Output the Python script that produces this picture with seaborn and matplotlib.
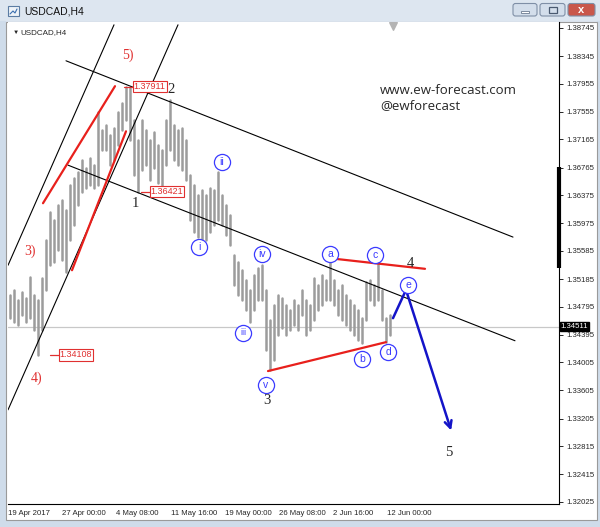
import numpy as np
import pandas as pd
import seaborn as sns
import matplotlib.pyplot as plt
from matplotlib.patches import Rectangle, FancyBboxPatch

# USDCAD H4 bars (roughly two H4 bars per entry)
highs = [1.3496, 1.3503, 1.3489, 1.3500, 1.3491, 1.3521, 1.3496, 1.3489, 1.3520, 1.3574,
         1.3613, 1.3602, 1.3623, 1.3630, 1.3616, 1.3652, 1.3662, 1.3670, 1.3687, 1.3676,
         1.3690, 1.3680, 1.3755, 1.3730, 1.3737, 1.3723, 1.3733, 1.3755, 1.3768, 1.3791,
         1.3789, 1.3744, 1.3715, 1.3744, 1.3730, 1.3715, 1.3727, 1.3708, 1.3701, 1.3744,
         1.3772, 1.3737, 1.3730, 1.3733, 1.3715, 1.3666, 1.3652, 1.3638, 1.3645, 1.3638,
         1.3647, 1.3645, 1.3670, 1.3638, 1.3623, 1.3609, 1.3552, 1.3543, 1.3531, 1.3517,
         1.3503, 1.3524, 1.3534, 1.3538, 1.3503, 1.3460, 1.3482, 1.3496, 1.3491, 1.3482,
         1.3474, 1.3489, 1.3482, 1.3503, 1.3489, 1.3482, 1.3520, 1.3510, 1.3524, 1.3517,
         1.3548, 1.3517, 1.3503, 1.3510, 1.3496, 1.3489, 1.3482, 1.3474, 1.3463, 1.3514,
         1.3517, 1.3510, 1.3541, 1.3503, 1.3463, 1.3467]
lows = [1.3463, 1.3457, 1.3453, 1.3467, 1.3457, 1.3463, 1.3446, 1.3411, 1.3446, 1.3503,
        1.3538, 1.3543, 1.3559, 1.3545, 1.3528, 1.3574, 1.3595, 1.3623, 1.3642, 1.3647,
        1.3652, 1.3647, 1.3652, 1.3701, 1.3701, 1.3680, 1.3687, 1.3708, 1.3730, 1.3744,
        1.3715, 1.3666, 1.3642, 1.3673, 1.3680, 1.3659, 1.3676, 1.3655, 1.3649, 1.3680,
        1.3701, 1.3687, 1.3680, 1.3673, 1.3659, 1.3602, 1.3585, 1.3578, 1.3567, 1.3574,
        1.3585, 1.3595, 1.3602, 1.3595, 1.3581, 1.3567, 1.3510, 1.3496, 1.3489, 1.3474,
        1.3457, 1.3474, 1.3489, 1.3489, 1.3418, 1.3389, 1.3404, 1.3439, 1.3449, 1.3439,
        1.3446, 1.3453, 1.3446, 1.3467, 1.3439, 1.3446, 1.3460, 1.3474, 1.3482, 1.3489,
        1.3489, 1.3482, 1.3467, 1.3460, 1.3453, 1.3446, 1.3439, 1.3432, 1.3428, 1.3460,
        1.3489, 1.3482, 1.3489, 1.3460, 1.3429, 1.3439]
last_price = 1.34511

date_ticks = [-0.5, 13, 26.5, 40.25, 53.75, 67.25, 80.75, 94.25]
date_labels = ['19 Apr 2017', '27 Apr 00:00', '4 May 08:00', '11 May 16:00',
               '19 May 00:00', '26 May 08:00', '2 Jun 16:00', '12 Jun 00:00']
price_ticks = [1.38745, 1.38345, 1.37955, 1.37555, 1.37165, 1.36765, 1.36375, 1.35975, 1.35585,
               1.35185, 1.34795, 1.34395, 1.34005, 1.33605, 1.33205, 1.32815, 1.32415, 1.32025]

# elliott wave labels
wave_text = ['1', '2', '3', '4', '5']
wave_x = [31.25, 40.25, 64.25, 100, 109.75]
wave_y = [1.3626, 1.3787, 1.3346, 1.3541, 1.3272]
degree_text = ['3)', '4)', '5)']
degree_x = [5, 6.75, 29.5]
degree_y = [1.3558, 1.3378, 1.3836]
minor_text = ['i', 'ii', 'iii', 'iv', 'v', 'a', 'b', 'c', 'd', 'e']
minor_x = [47.25, 53, 58.25, 63, 64, 80, 88, 91.25, 94.5, 99.5]
minor_y = [1.3564, 1.3684, 1.3442, 1.3554, 1.3368, 1.3554, 1.3405, 1.3553, 1.3415, 1.3510]

# marked pivot prices: label, bar where the tag line starts, price
pivot_text = ['1.37911', '1.36421', '1.34108']
pivot_x = [28.5, 32.75, 10]
pivot_y = [1.37911, 1.36421, 1.34108]

# trend / channel lines: ((x0, y0), (x1, y1))
black_lines = [((-0.5, 1.3538), (26, 1.3879)),
               ((-0.5, 1.3333), (42, 1.3879)),
               ((14, 1.3828), (125.75, 1.3578)),
               ((14.5, 1.3680), (126.25, 1.3431))]
red_lines = [((8.25, 1.3626), (26.25, 1.3792)),
             ((15.5, 1.3531), (29, 1.3728)),
             ((80, 1.3548), (103.75, 1.3533)),
             ((64.5, 1.3388), (94, 1.3429))]
path_x = [95.75, 99, 110.5]
path_y = [1.3463, 1.3503, 1.3300]

sns.set_style('white')
plt.rcParams['font.family'] = ['Liberation Sans', 'DejaVu Sans']

fig = plt.figure(figsize=(6, 5.27), dpi=100)

# window chrome drawn in pixel space
bg = fig.add_axes([0, 0, 1, 1], zorder=0)
bg.set_xlim(0, 600)
bg.set_ylim(527, 0)
bg.axis('off')
bg.add_patch(Rectangle((0, 0), 600, 21, color='#dde6f0'))
bg.add_patch(Rectangle((0, 21), 5, 506, color='#cfdcea'))
bg.add_patch(Rectangle((597, 21), 3, 506, color='#cfdcea'))
bg.add_patch(Rectangle((0, 520), 600, 7, color='#cfdcea'))
bg.add_patch(Rectangle((5.5, 21.5), 591.5, 498.5, fc='white', ec='#9a9a9a', lw=0.8))
bg.add_patch(Rectangle((8, 6), 11, 10, fc='#eef3f8', ec='#5b7ca3', lw=0.8))
bg.plot([10, 13, 15, 17], [14, 11, 13, 9], color='#3a6fb0', lw=0.8)
bg.text(24, 11.5, 'USDCAD,H4', fontsize=7.5, va='center', color='#111111')
for bx, bw, fc in [(513, 24, '#d3deeb'), (540, 25, '#d3deeb'), (568, 27, '#c9574b')]:
    bg.add_patch(FancyBboxPatch((bx, 3.5), bw, 12.5, boxstyle='round,pad=0,rounding_size=2.5',
                                fc=fc, ec='#7f8fa6', lw=0.8))
bg.add_patch(Rectangle((521, 10.5), 8, 2.5, fc='white', ec='#6b7b90', lw=0.6))
bg.add_patch(Rectangle((548.5, 7), 8, 6, fc='none', ec='#4a5a70', lw=0.9))
bg.text(581.5, 9.8, 'x', fontsize=8, color='white', ha='center', va='center', fontweight='bold')

ax = fig.add_axes([8 / 600, 23 / 527, 551 / 600, 482 / 527], zorder=1)

bars = pd.DataFrame({'bar': np.repeat(np.arange(len(highs)), 2),
                     'price': np.ravel(np.column_stack([lows, highs]))})
sns.lineplot(data=bars, x='bar', y='price', units='bar', estimator=None,
             color='#9c9c9c', lw=1.8, ax=ax, legend=False)

ax.axhline(last_price, color='#c8c8c8', lw=0.9, zorder=0)

for (x0, y0), (x1, y1) in black_lines:
    ax.plot([x0, x1], [y0, y1], color='black', lw=0.8)
for (x0, y0), (x1, y1) in red_lines:
    ax.plot([x0, x1], [y0, y1], color='#e8201c', lw=1.6)

ax.plot(path_x[:2], path_y[:2], color='#1414c8', lw=1.8)
ax.annotate('', xy=(path_x[2], path_y[2]), xytext=(path_x[1], path_y[1]),
            arrowprops=dict(arrowstyle='->,head_length=0.5,head_width=0.25',
                            color='#1414c8', lw=1.8))

for t, x, y in zip(wave_text, wave_x, wave_y):
    ax.text(x, y, t, fontsize=10.5, family='Liberation Serif', ha='center', va='center')
for t, x, y in zip(degree_text, degree_x, degree_y):
    ax.text(x, y, t, fontsize=10, family='Liberation Serif', color='#e03030',
            ha='center', va='center')

ax.scatter(minor_x, minor_y, s=135, facecolor='white', edgecolor='#3a3aff', lw=0.9, zorder=4)
for t, x, y in zip(minor_text, minor_x, minor_y):
    ax.text(x, y, t, fontsize=7.5 if len(t) < 3 else 6.3, color='#3a3aff',
            ha='center', va='center', zorder=5)

for t, x, y in zip(pivot_text, pivot_x, pivot_y):
    ax.plot([x, x + 2.3], [y, y], color='#e03030', lw=0.9)
    ax.text(x + 2.4, y, t, fontsize=6.5, color='#e03030', ha='left', va='center',
            bbox=dict(boxstyle='square,pad=0.12', fc='white', ec='#e03030', lw=0.8))

ax.text(0.675, 0.842, 'www.ew-forecast.com\n@ewforecast', transform=ax.transAxes,
        family='Open Sans', fontsize=9.5, linespacing=1.25, ha='left', va='center')
ax.text(0.008, 0.979, '\u25bc', transform=ax.transAxes, fontsize=4.5, va='center')
ax.text(0.022, 0.979, 'USDCAD,H4', transform=ax.transAxes, fontsize=5.8, va='center')

ax.set_xlim(-0.5, 137.25)
ax.set_ylim(1.31995, 1.38830)

ax.scatter([95.75], [1.3878], marker='v', s=30, color='#b4b4b4', clip_on=False, zorder=6)
ax.plot([137.25, 137.25], [1.3534, 1.3677], color='black', lw=3, clip_on=False,
        solid_capstyle='butt')

ax.yaxis.tick_right()
ax.set_yticks(price_ticks)
ax.set_yticklabels([f'{v:.5f}' for v in price_ticks])
ax.set_xticks(date_ticks)
ax.set_xticklabels(date_labels, ha='left')
ax.tick_params(axis='y', direction='out', length=3, width=0.7, pad=2, labelsize=5.6)
ax.tick_params(axis='x', direction='out', length=3, width=0.7, pad=1.5, labelsize=5.6)
ax.set_xlabel('')
ax.set_ylabel('')
for side in ['left', 'top']:
    ax.spines[side].set_visible(False)
for side in ['right', 'bottom']:
    ax.spines[side].set_color('black')
    ax.spines[side].set_linewidth(0.8)

ax.text(1.003, last_price, f'{last_price:.5f}', transform=ax.get_yaxis_transform(),
        fontsize=5.6, color='white', ha='left', va='center', zorder=7,
        bbox=dict(boxstyle='square,pad=0.1', fc='black', ec='black'))

fig.savefig('out.png', dpi=100)
